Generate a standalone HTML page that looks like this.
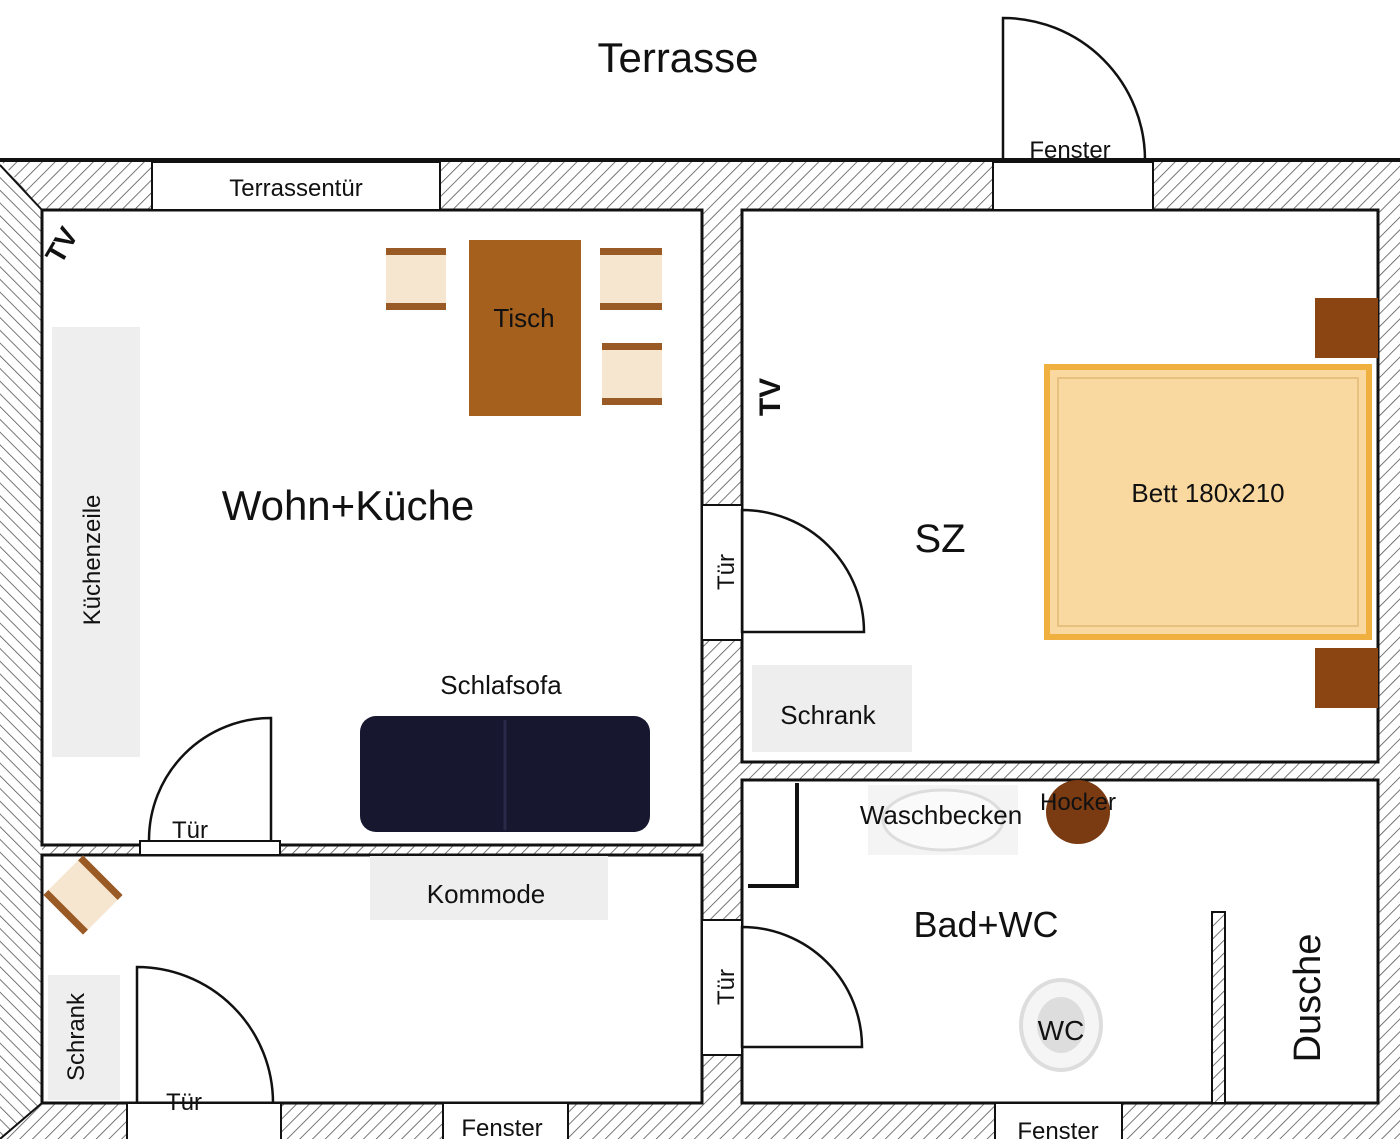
<!DOCTYPE html><html><head><style>body{margin:0;background:#fff}svg{display:block}text{font-family:"Liberation Sans",sans-serif;fill:#111}</style></head><body>
<svg width="1400" height="1139" viewBox="0 0 1400 1139" xmlns="http://www.w3.org/2000/svg">
<defs>
<pattern id="h1" width="9" height="9" patternUnits="userSpaceOnUse" patternTransform="rotate(45)"><rect width="9" height="9" fill="#fff"/><line x1="0" y1="0" x2="0" y2="9" stroke="#555" stroke-width="1.6"/></pattern>
<pattern id="h2" width="9" height="9" patternUnits="userSpaceOnUse" patternTransform="rotate(-45)"><rect width="9" height="9" fill="#fff"/><line x1="0" y1="0" x2="0" y2="9" stroke="#555" stroke-width="1.6"/></pattern>
</defs>
<rect x="0" y="160" width="1400" height="979" fill="url(#h1)"/>
<polygon points="0,160 42,210 42,1103 0,1139" fill="url(#h2)"/>
<line x1="0" y1="160" x2="1400" y2="160" stroke="#111" stroke-width="4"/>
<line x1="0" y1="165" x2="42" y2="210" stroke="#111" stroke-width="2"/>
<line x1="42" y1="1103" x2="0" y2="1139" stroke="#111" stroke-width="2"/>
<g fill="#fff" stroke="#111" stroke-width="3">
<rect x="42" y="210" width="660" height="635"/>
<rect x="42" y="855" width="660" height="248"/>
<rect x="742" y="210" width="636" height="552"/>
<rect x="742" y="780" width="636" height="323"/>
</g>
<g fill="#fff" stroke="#111" stroke-width="2">
<rect x="152" y="162" width="288" height="48"/>
<rect x="993" y="162" width="160" height="48"/>
<rect x="702" y="505" width="40" height="135"/>
<rect x="702" y="920" width="40" height="135"/>
<rect x="140" y="841" width="140" height="14"/>
<rect x="127" y="1103" width="154" height="38"/>
<rect x="443" y="1103" width="125" height="38"/>
<rect x="995" y="1103" width="127" height="38"/>
</g>
<rect x="1212" y="912" width="13" height="191" fill="url(#h1)" stroke="#111" stroke-width="2"/>
<g fill="none" stroke="#111" stroke-width="2.5">
<path d="M1003 160 V18 A142 142 0 0 1 1145 160"/>
<path d="M742 632 V510 A122 122 0 0 1 864 632 Z"/>
<path d="M742 1047 V927 A120 120 0 0 1 862 1047 Z"/>
<path d="M271 840 V718 A122 122 0 0 0 149 840"/>
<path d="M137 1103 V967 A136 136 0 0 1 273 1103"/>
<path d="M797 783 V886 H748" stroke-width="4"/>
</g>
<!-- furniture -->
<rect x="52" y="327" width="88" height="430" fill="#eee"/>
<rect x="469" y="240" width="112" height="176" fill="#a4601c"/>
<g fill="#f6e6cf"><rect x="386" y="248" width="60" height="62"/><rect x="600" y="248" width="62" height="62"/><rect x="602" y="343" width="60" height="62"/></g>
<g fill="#9a5a26"><rect x="386" y="248" width="60" height="7"/><rect x="386" y="303" width="60" height="7"/><rect x="600" y="248" width="62" height="7"/><rect x="600" y="303" width="62" height="7"/><rect x="602" y="343" width="60" height="7"/><rect x="602" y="398" width="60" height="7"/></g>
<g transform="translate(83,895) rotate(45)"><rect x="-28" y="-28" width="56" height="56" fill="#f6e6cf"/><rect x="-28" y="-28" width="56" height="7" fill="#9a5a26"/><rect x="-28" y="21" width="56" height="7" fill="#9a5a26"/></g>
<rect x="360" y="716" width="290" height="116" rx="16" fill="#17172f"/>
<line x1="505" y1="720" x2="505" y2="830" stroke="#2a2a48" stroke-width="3"/>
<rect x="752" y="665" width="160" height="87" fill="#eee"/>
<rect x="370" y="856" width="238" height="64" fill="#eee"/>
<rect x="48" y="975" width="72" height="125" fill="#eee"/>
<rect x="1315" y="298" width="63" height="60" fill="#8a4512"/>
<rect x="1315" y="648" width="63" height="60" fill="#8a4512"/>
<rect x="1047" y="367" width="322" height="270" fill="#f9d9a0" stroke="#f0b040" stroke-width="6"/>
<rect x="1058" y="378" width="300" height="248" fill="none" stroke="#e8c080" stroke-width="2"/>
<rect x="868" y="785" width="150" height="70" fill="#f4f4f4"/>
<ellipse cx="943" cy="820" rx="60" ry="30" fill="#fafafa" stroke="#ddd" stroke-width="3"/>
<circle cx="1078" cy="812" r="32" fill="#7a3a12"/>
<ellipse cx="1061" cy="1025" rx="40" ry="45" fill="#f5f5f5" stroke="#ddd" stroke-width="4"/>
<ellipse cx="1061" cy="1025" rx="24" ry="28" fill="#ddd"/>
<!-- text -->
<text x="678" y="72" font-size="42" text-anchor="middle">Terrasse</text>
<text x="296" y="196" font-size="24" text-anchor="middle">Terrassentür</text>
<text x="1070" y="158" font-size="24" text-anchor="middle">Fenster</text>
<text x="524" y="327" font-size="26" text-anchor="middle">Tisch</text>
<text x="348" y="520" font-size="42" text-anchor="middle">Wohn+Küche</text>
<text transform="translate(100,560) rotate(-90)" font-size="24" text-anchor="middle">Küchenzeile</text>
<text transform="translate(70,250) rotate(-60)" font-size="28" font-weight="bold" text-anchor="middle">TV</text>
<text transform="translate(780,397) rotate(-90)" font-size="30" font-weight="bold" text-anchor="middle">TV</text>
<text x="501" y="694" font-size="26" text-anchor="middle">Schlafsofa</text>
<text x="190" y="838" font-size="24" text-anchor="middle">Tür</text>
<text transform="translate(734,572) rotate(-90)" font-size="24" text-anchor="middle">Tür</text>
<text transform="translate(734,987) rotate(-90)" font-size="24" text-anchor="middle">Tür</text>
<text x="940" y="552" font-size="40" text-anchor="middle">SZ</text>
<text x="1208" y="502" font-size="26" text-anchor="middle">Bett 180x210</text>
<text x="828" y="724" font-size="26" text-anchor="middle">Schrank</text>
<text x="486" y="903" font-size="26" text-anchor="middle">Kommode</text>
<text transform="translate(84,1037) rotate(-90)" font-size="24" text-anchor="middle">Schrank</text>
<text x="184" y="1110" font-size="24" text-anchor="middle">Tür</text>
<text x="502" y="1136" font-size="24" text-anchor="middle">Fenster</text>
<text x="1058" y="1139" font-size="24" text-anchor="middle">Fenster</text>
<text x="941" y="824" font-size="26" text-anchor="middle">Waschbecken</text>
<text x="1078" y="810" font-size="24" text-anchor="middle">Hocker</text>
<text x="986" y="937" font-size="36" text-anchor="middle">Bad+WC</text>
<text x="1061" y="1040" font-size="28" text-anchor="middle">WC</text>
<text transform="translate(1320,998) rotate(-90)" font-size="38" text-anchor="middle">Dusche</text>
</svg>
</body></html>
